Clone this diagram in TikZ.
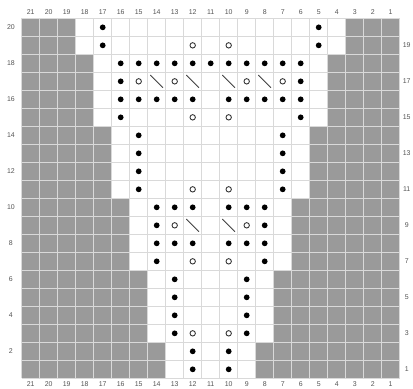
\documentclass[tikz,border=0pt]{standalone}
\usepackage{fontspec}
\setsansfont{Liberation Sans}
\usetikzlibrary{positioning}
\definecolor{chartGray}{HTML}{9A9A9A}
\definecolor{gridLine}{HTML}{D9D9D9}
\definecolor{lblGray}{HTML}{555555}

\begin{document}
\begin{tikzpicture}[x=5mm, y=5mm,
    knit/.style={fill=black, circle, inner sep=0pt, minimum size=1.6mm},
    yarnover/.style={draw=black!80, circle, inner sep=0pt, minimum size=1.5mm, line width=0.7pt},
    dec/.style={draw=black!75, line width=0.7pt},
    numlbl/.style={font=\sffamily\fontsize{5.5}{6}\selectfont, text=lblGray}]
    \useasboundingbox (-1.206,-0.54) rectangle (21.74,21.02);
    % shaded edges, band by band
    \foreach \ylo/\yhi/\n in {0/2/8, 2/6/7, 6/10/6, 10/14/5, 14/18/4, 18/20/3} {
      \fill[chartGray] (0,\ylo) rectangle (\n,\yhi);
      \fill[chartGray] (21-\n,\ylo) rectangle (21,\yhi);
    }
    \foreach \i in {0,...,21}
      \draw[gridLine, line width=0.5pt] (\i,0) -- (\i,20);
    \foreach \j in {0,...,20}
      \draw[gridLine, line width=0.5pt] (0,\j) -- (21,\j);
    % column and row numbers
    \foreach \c in {1,...,21} {
      \node[numlbl] (top-\c) at (21.5-\c,20.35) {\c};
      \node[numlbl] (bot-\c) at (21.5-\c,-0.33) {\c};
    }
    \foreach \r in {2,4,...,20}
      \node[numlbl] (row-\r) at (-0.6,\r-0.5) {\r};
    \foreach \r in {1,3,...,19}
      \node[numlbl] (row-\r) at (21.39,\r-0.5) {\r};
    % purl dots
    \foreach \c/\r in {17/20, 5/20, 17/19, 5/19,
        16/18, 15/18, 14/18, 13/18, 12/18, 11/18, 10/18, 9/18, 8/18, 7/18, 6/18,
        16/17, 6/17,
        16/16, 15/16, 14/16, 13/16, 12/16, 10/16, 9/16, 8/16, 7/16, 6/16,
        16/15, 6/15,
        15/14, 7/14, 15/13, 7/13, 15/12, 7/12, 15/11, 7/11,
        14/10, 13/10, 12/10, 10/10, 9/10, 8/10,
        14/9, 8/9,
        14/8, 13/8, 12/8, 10/8, 9/8, 8/8,
        14/7, 8/7,
        13/6, 9/6, 13/5, 9/5, 13/4, 9/4, 13/3, 9/3,
        12/2, 10/2, 12/1, 10/1}
      \node[knit] (p-\c-\r) at (21.5-\c,\r-0.5) {};
    % yarn overs
    \foreach \c/\r in {12/19, 10/19, 15/17, 13/17, 9/17, 7/17, 12/15, 10/15,
        12/11, 10/11, 13/9, 9/9, 12/7, 10/7, 12/3, 10/3}
      \node[yarnover] (yo-\c-\r) at (21.5-\c,\r-0.5) {};
    % decreases
    \foreach \c/\r in {14/17, 12/17, 10/17, 8/17, 12/9, 10/9}
      \draw[dec] (21.15-\c,\r-0.15) -- (21.85-\c,\r-0.85);
  \end{tikzpicture}
\end{document}
